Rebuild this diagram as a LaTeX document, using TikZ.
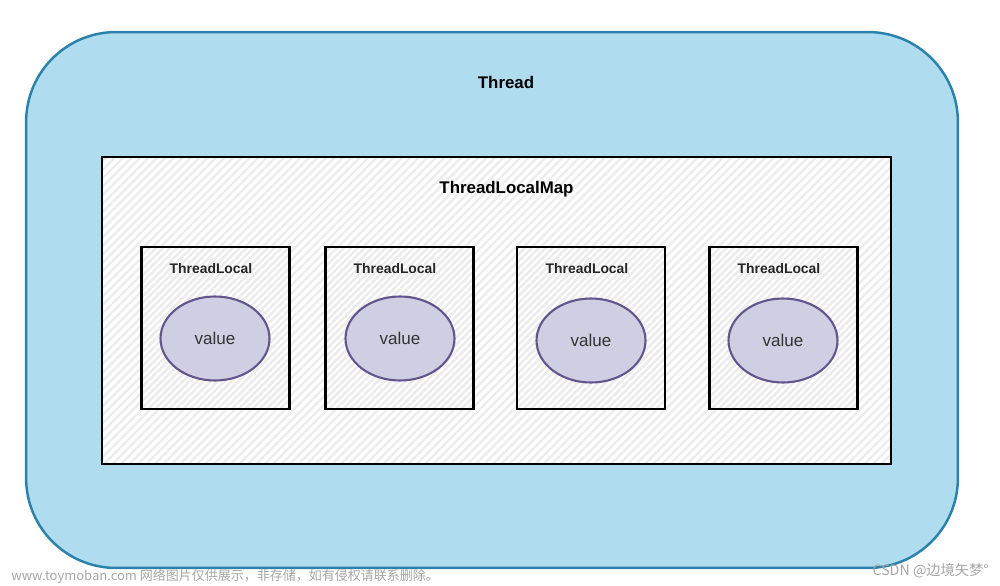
\documentclass[tikz,border=0pt]{standalone}
\usepackage{fontspec}
\setmainfont{Liberation Sans}
\newfontfamily\cjkfont{Noto Sans CJK SC}
\usepackage{tikz}
\usepackage{xcolor}
\usetikzlibrary{patterns.meta,shapes.geometric}

\begin{document}
\begin{tikzpicture}[x=0.02cm,y=-0.02cm]
% Define thread colors
\definecolor{threadfill}{RGB}{176,220,240}
\definecolor{threadline}{RGB}{42,130,170}
\definecolor{hatch}{RGB}{236,236,236}
\definecolor{valuefill}{RGB}{208,206,226}
\definecolor{valueline}{RGB}{98,86,140}
\definecolor{markgray}{RGB}{165,165,165}

\tikzset{
  threadbox/.style={draw=threadline,line width=1.4pt,fill=threadfill,rounded corners=1.8cm,minimum width=18.64cm,minimum height=10.72cm},
  mapbox/.style={draw=black,line width=1.4pt,preaction={fill=white},pattern={Lines[angle=45,distance=3.4pt,line width=1.3pt]},pattern color=hatch,minimum width=15.78cm,minimum height=6.14cm},
  localbox/.style={draw=black,line width=1.4pt,preaction={fill=white},pattern={Lines[angle=45,distance=2.8pt,line width=1.5pt]},pattern color=hatch,minimum width=2.96cm,minimum height=3.24cm},
  valuenode/.style={ellipse,draw=valueline,line width=1.2pt,fill=valuefill,minimum width=2.18cm,minimum height=1.68cm,inner sep=0pt,font=\fontsize{9.7}{11}\selectfont,text=black!80},
  titlelabel/.style={font=\bfseries\fontsize{9.6}{11}\selectfont},
  locallabel/.style={font=\bfseries\fontsize{7.9}{9}\selectfont,text=black!85},
  marklabel/.style={text=markgray,font=\cjkfont\fontsize{7.4}{9}\selectfont,inner sep=0pt}
}

\useasboundingbox (0,0) rectangle (1000,585);

% Draw outer thread and map
\node[threadbox] (thread) at (492,300) {};
\node[mapbox] (map) at (496.5,310.5) {};
\node[titlelabel] (threadtitle) at (506,82) {Thread};
\node[titlelabel] (maptitle) at (506.5,189.5) {ThreadLocalMap};

% Draw the four thread locals
\node[localbox] (local1) at (215.5,328) {};
\node[localbox] (local2) at (399.5,328) {};
\node[localbox] (local3) at (591,328) {};
\node[localbox] (local4) at (783.5,328) {};

\node[locallabel] (locallabel1) at (211,269) {ThreadLocal};
\node[locallabel] (locallabel2) at (395,269) {ThreadLocal};
\node[locallabel] (locallabel3) at (587,269) {ThreadLocal};
\node[locallabel] (locallabel4) at (779,269) {ThreadLocal};

% Add values
\node[valuenode] (value1) at (215,338.5) {\raisebox{-0.8pt}{value}};
\node[valuenode] (value2) at (400,338.5) {\raisebox{-0.8pt}{value}};
\node[valuenode] (value3) at (591,340.5) {\raisebox{-0.5pt}{value}};
\node[valuenode] (value4) at (783,340.5) {\raisebox{-0.5pt}{value}};

% Add watermarks
\node[marklabel,anchor=west] (markleft) at (11,576) {www.toymoban.com 网络图片仅供展示，非存储，如有侵权请联系删除。};
\node[marklabel,anchor=east,font=\cjkfont\fontsize{8.1}{10}\selectfont] (markright) at (989,571) {CSDN @边境矢梦°};
\end{tikzpicture}
\end{document}
